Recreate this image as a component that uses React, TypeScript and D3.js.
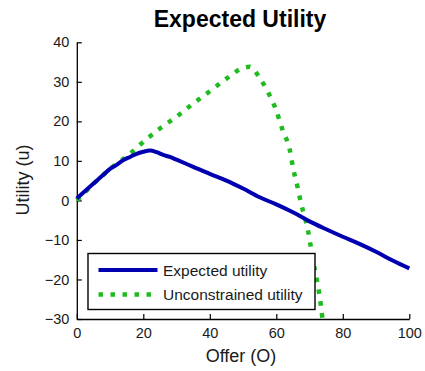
import { useEffect, useRef } from 'react';
import * as d3 from 'd3';

// Expected utility (solid blue)
const expectedOffer = [0, 2, 4, 6, 8, 10, 12, 14, 16, 18, 20, 22, 24, 26, 28, 30, 35, 40, 45, 50, 55, 60, 65, 70, 75, 80, 85, 90, 95, 100];
const expectedUtility = [0.5, 2, 3.5, 5, 6.5, 8, 9, 10.2, 11, 11.8, 12.3, 12.6, 12.2, 11.5, 11, 10.3, 8.5, 6.7, 5, 3, 0.8, -1, -3, -5.3, -7.3, -9.2, -11, -13, -15.2, -17.2];

// Unconstrained utility (dotted green)
const unconstrainedOffer = [0, 3, 5, 8, 10, 13, 16, 20, 25, 30, 35, 40, 45, 50, 52, 55, 57, 60, 62, 64, 65, 66.5, 67.5, 68.5, 69.5, 70.4, 71.6, 72.2, 72.9, 73.4, 73.9];
const unconstrainedUtility = [0, 2.5, 4.2, 6.5, 8, 9.8, 11.8, 14.8, 18.2, 21.2, 24.5, 27.6, 30.8, 33.5, 33.8, 31, 28.2, 22.7, 17.5, 13, 8.4, 3, -1, -4, -7.5, -11.8, -17.7, -20.2, -23.5, -26.5, -30];

const xTicks = [0, 20, 40, 60, 80, 100];
const yTicks = [-30, -20, -10, 0, 10, 20, 30, 40];

const seriesNames = ['Expected utility', 'Unconstrained utility'];

export default function App() {
  const svgRef = useRef<SVGSVGElement>(null);

  useEffect(() => {
    const svg = d3.select(svgRef.current);
    svg.selectAll('*').remove();

    const font = 'Arial, "Liberation Sans", sans-serif';
    const blue = '#0000b0';
    const green = '#20bb20';

    const x = d3.scaleLinear().domain([0, 100]).range([76.8, 409.3]);
    const y = d3.scaleLinear().domain([-30, 40]).range([319, 42.3]);

    // title
    svg.append('text')
      .attr('x', 240)
      .attr('y', 26.5)
      .attr('text-anchor', 'middle')
      .style('font-family', font)
      .style('font-weight', 'bold')
      .style('font-size', '23px')
      .text('Expected Utility');

    // axes, MATLAB style ticks pointing inwards
    const xAxis = svg.append('g')
      .attr('transform', `translate(0,${y(-30)})`)
      .call(d3.axisBottom(x).tickValues(xTicks).tickSizeInner(-5).tickSizeOuter(0).tickPadding(9));

    const yAxis = svg.append('g')
      .attr('transform', `translate(${x(0)},0)`)
      .call(d3.axisLeft(y).tickValues(yTicks).tickSizeInner(-5).tickSizeOuter(0).tickPadding(7.5));

    [xAxis, yAxis].forEach(ax => {
      ax.select('.domain').attr('stroke', '#000').attr('stroke-width', 1.3);
      ax.selectAll('.tick line').attr('stroke', '#000').attr('stroke-width', 1.2);
      ax.selectAll('.tick text')
        .attr('fill', '#1a1a1a')
        .style('font-family', font)
        .style('font-size', '14.5px');
    });

    // axis labels
    svg.append('text')
      .attr('x', 241)
      .attr('y', 362)
      .attr('text-anchor', 'middle')
      .style('font-family', font)
      .style('font-size', '18px')
      .attr('fill', '#1a1a1a')
      .text('Offer (O)');

    svg.append('text')
      .attr('transform', 'translate(28.5,180) rotate(-90)')
      .attr('text-anchor', 'middle')
      .style('font-family', font)
      .style('font-size', '18px')
      .attr('fill', '#1a1a1a')
      .text('Utility (u)');

    const line = d3.line<[number, number]>()
      .x(d => x(d[0]))
      .y(d => y(d[1]))
      .curve(d3.curveMonotoneX);

    const expectedPts = expectedOffer.map((o, i) => [o, expectedUtility[i]] as [number, number]);
    const unconstrainedPts = unconstrainedOffer.map((o, i) => [o, unconstrainedUtility[i]] as [number, number]);

    svg.append('path')
      .datum(unconstrainedPts)
      .attr('fill', 'none')
      .attr('stroke', green)
      .attr('stroke-width', 4.5)
      .attr('stroke-dasharray', '4.5,7.5')
      .attr('d', line);

    svg.append('path')
      .datum(expectedPts)
      .attr('fill', 'none')
      .attr('stroke', blue)
      .attr('stroke-width', 4)
      .attr('stroke-linejoin', 'round')
      .attr('d', line);

    // legend
    const legend = svg.append('g');
    legend.append('rect')
      .attr('x', 88)
      .attr('y', 253.5)
      .attr('width', 227)
      .attr('height', 56)
      .attr('fill', '#fff')
      .attr('stroke', '#000')
      .attr('stroke-width', 1.4);

    const rows = [
      { name: seriesNames[0], color: blue, dash: null, width: 4, yy: 270 },
      { name: seriesNames[1], color: green, dash: '4.5,7.5', width: 4.5, yy: 294.5 },
    ];
    rows.forEach(r => {
      legend.append('line')
        .attr('x1', 98.5)
        .attr('x2', 157.5)
        .attr('y1', r.yy)
        .attr('y2', r.yy)
        .attr('stroke', r.color)
        .attr('stroke-width', r.width)
        .attr('stroke-dasharray', r.dash);
      legend.append('text')
        .attr('x', 163)
        .attr('y', r.yy + 5.5)
        .style('font-family', font)
        .style('font-size', '15.5px')
        .attr('fill', '#1a1a1a')
        .text(r.name);
    });
  }, []);

  return (
    <svg
      ref={svgRef}
      width={425}
      height={371}
      style={{ position: 'absolute', left: 0, top: 0, background: '#fff' }}
    />
  );
}
